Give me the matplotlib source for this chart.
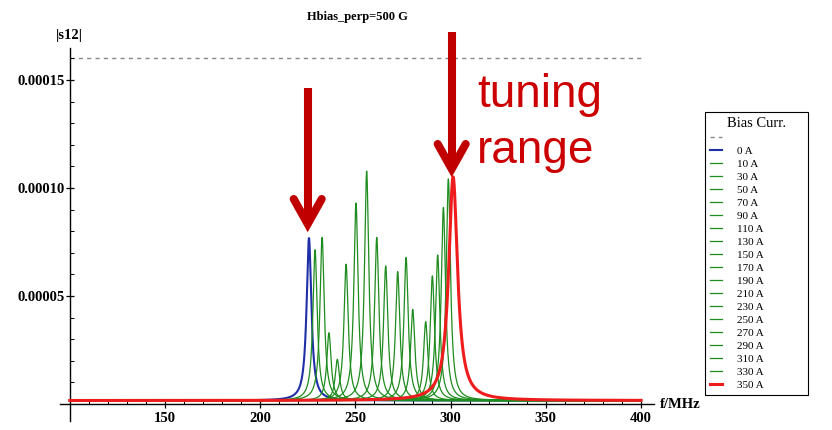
import numpy as np
import matplotlib
matplotlib.use("Agg")
import matplotlib.pyplot as plt
from matplotlib.lines import Line2D
from matplotlib.ticker import MultipleLocator, FixedLocator, FixedFormatter

# Bias current of each trace and the resonance it produces
currents = [0, 10, 30, 50, 70, 90, 110, 130, 150, 170, 190, 210, 230, 250,
            270, 290, 310, 330, 350]
peak_freq = [225.6, 228.8, 232.5, 236.1, 240.5, 245.1, 250.3, 255.9, 261.2,
             265.9, 272.2, 276.6, 280.1, 286.9, 290.4, 293.2, 296.2, 298.8,
             301.3]
peak_amp = [7.68e-5, 7.14e-5, 7.71e-5, 3.30e-5, 2.07e-5, 6.47e-5, 9.30e-5,
            1.078e-4, 7.71e-5, 6.39e-5, 6.13e-5, 6.78e-5, 4.38e-5, 3.81e-5,
            5.93e-5, 6.90e-5, 9.10e-5, 1.042e-4, 1.051e-4]
half_width = [1.5] + [1.35] * 17 + [2.8]
noise_floor = 1.6e-6
limit_level = 1.6e-4

x_ticks = [150, 200, 250, 300, 350, 400]
y_ticks = [5e-5, 1e-4, 1.5e-4]
y_tick_labels = ["0.00005", "0.00010", "0.00015"]

freq = np.arange(100.0, 400.0001, 0.05)

W, H = 832, 430
fig = plt.figure(figsize=(W / 100, H / 100), dpi=100)
ax = fig.add_axes([60 / W, 1 - 421 / H, 594 / W, 373 / H])

serif = "Liberation Serif"
BLUE, GREEN, RED = "#1f2fa8", "#1e8c1e", "#ee1c1c"
ARROW_RED = "#c00000"

lines = []
for i, (cur, f0, a, g) in enumerate(zip(currents, peak_freq, peak_amp, half_width)):
    s12 = noise_floor + (a - noise_floor) / (1 + ((freq - f0) / g) ** 2)
    if i == 0:
        color, lw, z = BLUE, 1.5, 2
    elif i == len(currents) - 1:
        color, lw, z = RED, 2.2, 4
    else:
        color, lw, z = GREEN, 0.9, 3
    ln, = ax.plot(freq, s12, color=color, lw=lw, zorder=z)
    lines.append(ln)

limit_line = ax.hlines(limit_level, 100, 400, colors="#888888",
                       linestyles=(0, (3, 3)), lw=1.0, zorder=1)

ax.set_xlim(94.85, 406.8)
ax.set_ylim(-7.87e-6, 1.648e-4)
for side in ("top", "right"):
    ax.spines[side].set_visible(False)
ax.spines["left"].set_position(("data", 100))
ax.spines["bottom"].set_position(("data", 0))
for side in ("left", "bottom"):
    ax.spines[side].set_linewidth(1.0)

ax.xaxis.set_major_locator(FixedLocator(x_ticks))
ax.xaxis.set_minor_locator(MultipleLocator(10))
ax.yaxis.set_major_locator(FixedLocator(y_ticks))
ax.yaxis.set_major_formatter(FixedFormatter(y_tick_labels))
ax.yaxis.set_minor_locator(MultipleLocator(1e-5))
ax.tick_params(which="major", direction="inout", length=6, width=0.9)
ax.tick_params(which="minor", direction="in", length=3, width=0.7)
ax.tick_params(axis="x", which="major", pad=3)
ax.tick_params(axis="y", which="major", pad=0.5)
for lbl in ax.get_xticklabels() + ax.get_yticklabels():
    lbl.set_fontfamily(serif)
    lbl.set_fontweight("bold")
    lbl.set_fontsize(10.5)

fig.text(357 / W, 1 - 17 / H, "Hbias_perp=500 G", ha="center", va="center",
         family=serif, weight="bold", fontsize=9)
fig.text(69 / W, 1 - 35 / H, "|s12|", ha="center", va="center",
         family=serif, weight="bold", fontsize=10.5)
fig.text(660 / W, 1 - 405 / H, "f/MHz", ha="left", va="center",
         family=serif, weight="bold", fontsize=10.5)

# Legend
handles = [Line2D([], [], color="#888888", ls=(0, (3, 3)), lw=1.0)] + lines
labels = [""] + [f"{c} A" for c in currents]
leg = fig.legend(handles, labels, title="Bias Curr.", loc="upper left",
                 bbox_to_anchor=(705 / W, 1 - 397 / H, 103 / W, 285 / H),
                 mode="expand", borderaxespad=0, frameon=True, fancybox=False,
                 edgecolor="black", framealpha=1, borderpad=0.45,
                 labelspacing=0.29, handlelength=1.1, handletextpad=1.3,
                 prop={"family": serif, "size": 8},
                 title_fontproperties={"family": serif, "size": 10.5})
leg.get_frame().set_linewidth(0.8)


# Annotation arrows (figure pixel coordinates)
def px(x, y):
    return x / W, 1 - y / H


def draw_arrow(x, y_top, y_tip, dx=14, dy=25, lw=5.8):
    xs, ys = zip(px(x, y_top), px(x, y_tip))
    fig.add_artist(Line2D(xs, ys, color=ARROW_RED, lw=lw,
                          solid_capstyle="butt", transform=fig.transFigure))
    pts = [px(x - dx, y_tip - dy), px(x, y_tip), px(x + dx, y_tip - dy)]
    xs, ys = zip(*pts)
    fig.add_artist(Line2D(xs, ys, color=ARROW_RED, lw=lw,
                          solid_capstyle="round", solid_joinstyle="miter",
                          transform=fig.transFigure))


draw_arrow(307.7, 88, 224)
draw_arrow(451.7, 32, 169)

fig.text(*px(477, 107), "tuning", ha="left", va="baseline",
         family="Liberation Sans", fontsize=33, color="#cc0000")
fig.text(*px(477, 163), "range", ha="left", va="baseline",
         family="Liberation Sans", fontsize=33, color="#cc0000")

fig.savefig("out.png", dpi=100)
